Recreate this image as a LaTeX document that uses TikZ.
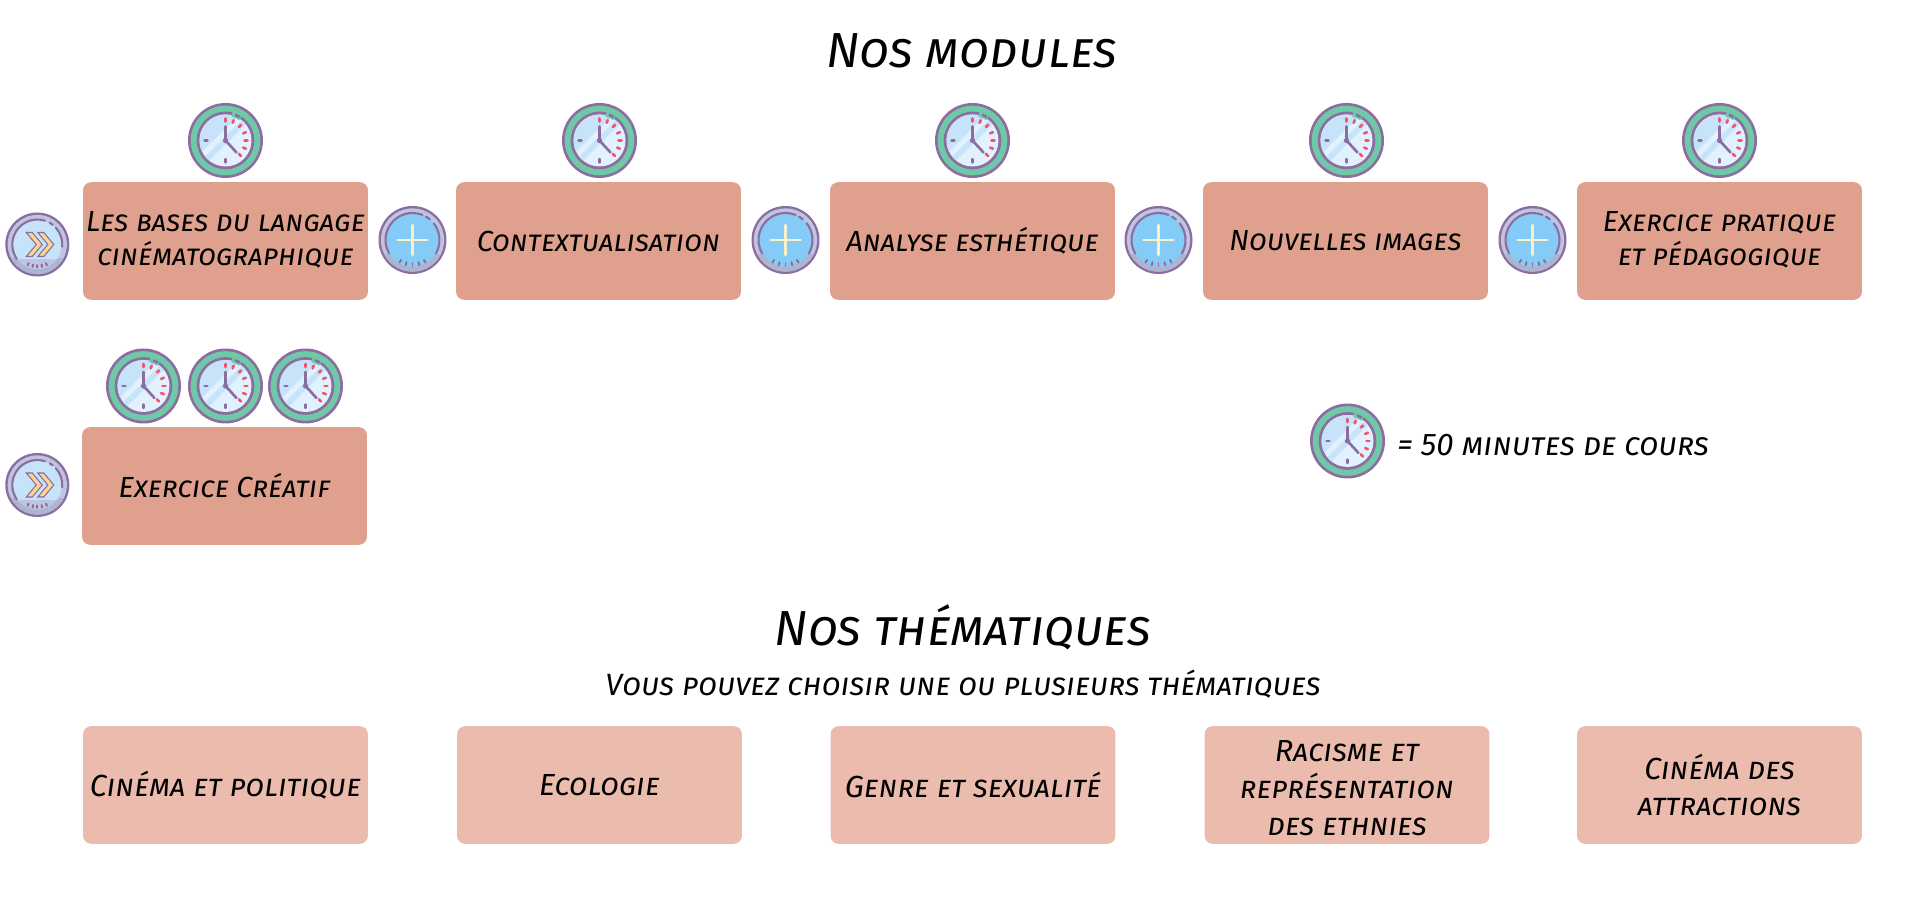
\documentclass[tikz,border=0pt]{standalone}
\usepackage{fontspec}
\newfontfamily\capsfont{Fira Sans}[UprightFont=* Italic,Letters=SmallCaps]
\definecolor{modfill}{HTML}{DFA18D}
\definecolor{themefill}{HTML}{EBBBAD}
\definecolor{iconline}{HTML}{8D6C9F}
\definecolor{ringgreen}{HTML}{6FC8A8}
\definecolor{faceblue}{HTML}{C6E3F9}
\definecolor{facelight}{HTML}{E1F1FD}
\definecolor{tickred}{HTML}{F0556F}
\definecolor{discgrey}{HTML}{BEC5E2}
\definecolor{bandgrey}{HTML}{ACB4CF}
\definecolor{plusblue}{HTML}{85CBF8}
\definecolor{crosscream}{HTML}{FAEFC8}
\definecolor{arrowgold}{HTML}{F9D596}
\tikzset{
  modbox/.style={fill=modfill,rounded corners=4.5pt,minimum width=286*0.5669pt,minimum height=118*0.5669pt,
    align=center,inner sep=0pt,font=\capsfont\fontsize{16.55}{19.3}\selectfont},
  themebox/.style={modbox,fill=themefill,font=\capsfont\fontsize{17.35}{21}\selectfont},
  title/.style={inner sep=0pt,font=\capsfont\fontsize{28}{34}\selectfont},
  subtitle/.style={inner sep=0pt,font=\capsfont\fontsize{17.5}{21}\selectfont},
  clockicon/.pic={
    \fill[iconline] (0,0) circle (37.5);
    \fill[ringgreen] (0,0) circle (34.8);
    \fill[iconline] (0,0) circle (28.8);
    \fill[facelight] (0,0) circle (26);
    \begin{scope}
      \clip (0,0) circle (26);
      \fill[faceblue] (-30,-18) -- (18,30) -- (-30,30) -- cycle;
      \fill[faceblue] (-30,-26) -- (26,30) -- (30,26) -- (-26,-30) -- cycle;
    \end{scope}
    \fill[ringgreen] (56:24.5) arc (56:76:24.5) -- (76:29) arc (76:56:29) -- cycle;
    \draw[iconline,line width=1.4pt,line cap=round] (60:27.4) arc (60:68:27.4);
    \draw[iconline,line width=1.4pt,line cap=round] (-21,0) -- (-18,0) (0,-18.5) -- (0,-22);
    \foreach \ang in {90,68,45,22,0,-22,-45}
      \draw[tickred,line width=1.5pt,line cap=round] (\ang:19) -- (\ang:22);
    \draw[iconline,line width=1.5pt,line cap=round] (0,14) -- (0,0) -- (11,-12);
    \fill[iconline] (0,0) circle (2.6);
  },
  discbase/.pic={
    \fill[iconline] (0,0) circle (#1);
    \fill[discgrey] (0,0) circle (#1-2.4);
    \begin{scope}
      \clip (0,0) circle (#1-2.4);
      \fill[bandgrey] (-40,-0.42*#1) rectangle (40,-40);
    \end{scope}
  },
  nexticon/.pic={
    \pic {discbase=32};
    \fill[faceblue] (0,0) circle (24.5);
    \begin{scope}
      \clip (0,0) circle (24.5);
      \fill[discgrey] (-30,-15) rectangle (30,-30);
    \end{scope}
    \draw[iconline,line width=1.2pt,line cap=round] (42:25) arc (42:-5:25) (-145:25) arc (-145:-200:25) arc (160:72:25);
    \draw[iconline,line width=1.2pt,line cap=round] (52:25) arc (52:60:25);
    \foreach \ang in {-115,-102,-90,-78,-65}
      \draw[iconline,line width=1.1pt,line cap=round] (\ang:20.5) -- (\ang:23);
    \foreach \dx in {0,11.5}
      \draw[iconline,fill=arrowgold,line width=.6pt,line join=miter] (-11+\dx,12) -- (-5+\dx,12) -- (5+\dx,0) -- (-5+\dx,-12) -- (-11+\dx,-12) -- (-1+\dx,0) -- cycle;
  },
  plusicon/.pic={
    \pic {discbase=34};
    \fill[plusblue] (0,0) circle (26.5);
    \draw[iconline,line width=1.2pt,line cap=round] (38:27) arc (38:-30:27) (-150:27) arc (-150:-270:27) arc (90:68:27);
    \draw[iconline,line width=1.2pt,line cap=round] (50:27) arc (50:60:27);
    \foreach \ang in {-120,-105,-90,-75,-60}
      \draw[iconline,line width=1.1pt,line cap=round] (\ang:23) -- (\ang:26);
    \draw[crosscream,line width=1.6pt,line cap=round] (-15,0) -- (15,0) (0,-15) -- (0,15);
  }
}
\begin{document}
\begin{tikzpicture}[x=0.02cm,y=0.02cm]
  \useasboundingbox (0,0) rectangle (1920,912);
  \node[title] (modtitle) at (972,861) {Nos modules};
  % first row
  \node[modbox] (base) at (225.5,671) {Les bases du langage\\cinématographique\vspace{1pt}};
  \node[modbox] (context) at (598.5,671) {Contextualisation};
  \node[modbox] (analyse) at (972.5,671) {Analyse esthétique};
  \node[modbox] (images) at (1345.5,671) {Nouvelles images};
  \node[modbox] (pratique) at (1719.5,671) {Exercice pratique\\et pédagogique\vspace{1pt}};
  \foreach \x in {225.5,599.5,972.5,1346.5,1719.5}
    \pic at (\x,771.5) {clockicon};
  \foreach \x in {412.5,785.5,1158.5,1532.5}
    \pic at (\x,672) {plusicon};
  \pic at (37.3,667.5) {nexticon};
  % second row
  \node[modbox] (creatif) at (224.5,426) {Exercice Créatif};
  \foreach \x in {143.5,225.5,305.5}
    \pic at (\x,526) {clockicon};
  \pic at (37.3,427) {nexticon};
  % legend
  \pic at (1347.5,471) {clockicon};
  \node[subtitle,font=\capsfont\fontsize{17.8}{19}\selectfont,anchor=west] (legend) at (1397,467) {= 50 minutes de cours};
  % thematiques
  \node[title] (themetitle) at (963,285) {Nos thématiques};
  \node[subtitle] (themesub) at (963,228) {Vous pouvez choisir une ou plusieurs thématiques};
  \node[themebox] (politique) at (225.5,127) {\raisebox{1.2pt}{Cinéma et politique}};
  \node[themebox] (ecologie) at (599.5,127) {Ecologie};
  \node[themebox] (genre) at (973,127) {\raisebox{-2pt}{Genre et sexualité}};
  \node[themebox] (racisme) at (1347,127) {};
  \node[themebox,fill=none,minimum height=0pt] (racismetext) at (1347,123.5) {Racisme et\\représentation\\des ethnies};
  \node[themebox] (attractions) at (1719.5,127) {Cinéma des\\attractions};
\end{tikzpicture}
\end{document}
